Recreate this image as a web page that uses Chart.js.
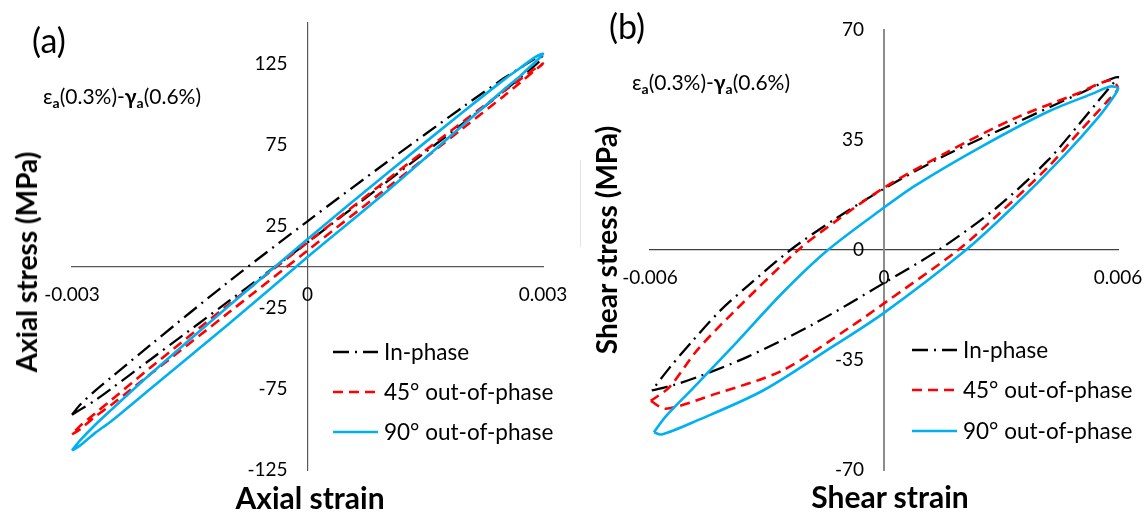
<!DOCTYPE html>
<html>
<head>
<meta charset="utf-8">
<script src="https://cdn.jsdelivr.net/npm/chart.js@4.4.1/dist/chart.umd.min.js"></script>
<style>
  body { margin: 0; background: #fff; }
  #wrap { position: relative; width: 1146px; height: 512px; font-family: Lato, sans-serif; color: #000; overflow: hidden; }
  #wrap canvas { position: absolute; top: 0; }
  .lbl { position: absolute; white-space: nowrap; line-height: 1; }
  .panel { font-size: 34px; transform: translate(-50%, -50%); }
  .note { font-size: 21px; transform: translateY(-50%); }
  .note sub { font-size: 14px; font-weight: bold; vertical-align: -4px; }
  .title { font-weight: bold; transform: translate(-50%, -50%); }
  .xtitle { font-size: 30px; }
  .ytitle { font-size: 28px; transform: translate(-50%, -50%) rotate(-90deg); }
</style>
</head>
<body>
<div id="wrap">
  <canvas id="chartA" width="573" height="512" style="left:0"></canvas>
  <canvas id="chartB" width="573" height="512" style="left:573px"></canvas>
  <div class="lbl panel" style="left:49px; top:40px">(a)</div>
  <div class="lbl panel" style="left:627px; top:26px">(b)</div>
  <div class="lbl note" style="left:43px; top:97px">ε<sub>a</sub>(0.3%)-<b>γ<sub>a</sub></b>(0.6%)</div>
  <div class="lbl note" style="left:632px; top:83px">ε<sub>a</sub>(0.3%)-<b>γ<sub>a</sub></b>(0.6%)</div>
  <div class="lbl title ytitle" style="left:26px; top:262px">Axial stress (MPa)</div>
  <div class="lbl title ytitle" style="left:606px; top:240px">Shear stress (MPa)</div>
  <div class="lbl title xtitle" style="left:310px; top:497px">Axial strain</div>
  <div class="lbl title xtitle" style="left:890px; top:496px">Shear strain</div>
  <div style="position:absolute; left:580px; top:160px; width:1px; height:87px; background:#e4e4e4"></div>
</div>
<script>
// Series labels
const seriesNames = ['In-phase', '45° out-of-phase', '90° out-of-phase'];

// (a) axial strain / axial stress (MPa): lower branch left->right, then upper branch back
const aStrain = [-0.003, -0.0029, -0.0027, -0.0025, -0.002, -0.001, 0, 0.001, 0.002, 0.0025, 0.0027, 0.0029, 0.003,
  0.0029, 0.0027, 0.0025, 0.002, 0.001, 0, -0.001, -0.002, -0.0025, -0.0027, -0.0029, -0.003];
const aInPhaseY = [-91, -88, -82, -75, -57, -21, 15, 52, 89, 108, 116, 124, 129, 128, 122, 116, 99, 64, 28, -9, -48, -68, -76, -85, -91];
const aOut45Y = [-103, -100, -92, -85, -66, -28, 10, 48, 86, 105, 113, 121, 125, 122, 115, 108, 90, 53, 15, -23, -62, -82, -90, -98, -103];
const aOut90Y = [-113, -110, -102, -95, -75, -35, 6, 46, 88, 109, 117, 126, 131, 129, 122, 115, 96, 57, 17, -24, -66, -88, -97, -107, -113];

// (b) shear strain / shear stress (MPa)
const bInPhaseX = [-0.00595, -0.0054, -0.0048, -0.0035, -0.0018, 0, 0.0014, 0.0029, 0.0042, 0.005, 0.0055, 0.006,
  0.005, 0.0033, 0.0016, 0, -0.0013, -0.0024, -0.0035, -0.0042, -0.0049, -0.0055, -0.00595];
const bInPhaseY = [-44.7, -43, -40.5, -34, -23.5, -10.5, 0, 13.6, 28.5, 40, 47.5, 55,
  49.7, 40, 30.3, 19.5, 9.5, 0, -11.5, -19.3, -28.8, -37.5, -44.7];
const bOut45X = [-0.00598, -0.0056, -0.0043, -0.0026, -0.0009, 0, 0.0019, 0.0029, 0.0042, 0.005, 0.0057, 0.006,
  0.0058, 0.005, 0.0033, 0.0016, 0, -0.0012, -0.0022, -0.0039, -0.0048, -0.0055, -0.00598];
const bOut45Y = [-48, -50.5, -45.7, -38.3, -24.8, -17, 0, 11, 26.3, 37.5, 47, 51.5,
  54, 50, 41.6, 31, 19.8, 9.5, 0, -20.3, -32, -43.6, -48];
const bOut90X = [-0.0059, -0.0057, -0.0048, -0.0031, -0.00135, 0, 0.0021, 0.0033, 0.0046, 0.0055, 0.0059, 0.006,
  0.0058, 0.0054, 0.0042, 0.0025, 0.0008, 0, -0.00144, -0.0026, -0.0039, -0.0049, -0.0056, -0.0059];
const bOut90Y = [-58, -58.7, -54.3, -44.7, -31, -20, 0, 13.6, 29.8, 42.3, 49, 51.5,
  52, 50, 44, 32.9, 20.5, 13.5, 0, -13.6, -31, -44, -53, -58];

// Axis ranges and tick labels
const xTicksA = [-0.003, 0, 0.003];
const yTicksA = [-125, -75, -25, 25, 75, 125];
const xTicksB = [-0.006, 0, 0.006];
const yTicksB = [-70, -35, 0, 35, 70];

const styles = [
  { color: '#000000', dash: [16, 6, 2, 6], width: 2.3, order: 2 },
  { color: '#ff0000', dash: [10, 6], width: 2.6, order: 1 },
  { color: '#00b0f0', dash: [], width: 2.6, order: 0 }
];

const toPoints = (xs, ys) => xs.map((x, i) => ({ x, y: ys[i] }));

function makeDatasets(loops) {
  return loops.map(([xs, ys], i) => ({
    label: seriesNames[i],
    data: toPoints(xs, ys),
    showLine: true,
    fill: false,
    tension: 0.3,
    pointRadius: 0,
    borderColor: styles[i].color,
    borderDash: styles[i].dash,
    borderWidth: styles[i].width,
    order: styles[i].order,
    clip: false
  }));
}

// Draw tick labels beside the crossing axes
const tickText = {
  id: 'tickText',
  afterDraw(chart) {
    const { ctx, scales: { x, y } } = chart;
    const x0 = x.getPixelForValue(0);
    const y0 = y.getPixelForValue(0);
    ctx.save();
    ctx.font = '19px Lato';
    ctx.fillStyle = '#000';
    ctx.textBaseline = 'middle';
    ctx.textAlign = 'center';
    x.ticks.forEach(t => ctx.fillText(String(t.value), x.getPixelForValue(t.value), y0 + 28));
    ctx.textAlign = 'right';
    y.ticks.forEach(t => ctx.fillText(String(t.value), x0 - 20, y.getPixelForValue(t.value)));
    ctx.restore();
  }
};

// Legend drawn inside the plot area
const insideLegend = {
  id: 'insideLegend',
  afterDraw(chart, args, opts) {
    const { ctx } = chart;
    ctx.save();
    ctx.font = '22.5px Lato';
    ctx.fillStyle = '#000';
    ctx.textBaseline = 'middle';
    chart.data.datasets.forEach((ds, i) => {
      const yy = opts.rows[i];
      ctx.strokeStyle = ds.borderColor;
      ctx.lineWidth = ds.borderWidth;
      ctx.setLineDash(ds.borderDash);
      ctx.beginPath();
      ctx.moveTo(opts.x1, yy);
      ctx.lineTo(opts.x2, yy);
      ctx.stroke();
      ctx.setLineDash([]);
      ctx.fillText(ds.label, opts.tx, yy + 1);
    });
    ctx.restore();
  }
};

function makeChart(id, loops, xr, yr, xTicks, yTicks, padding, legendPos, axes) {
  return new Chart(document.getElementById(id), {
    type: 'scatter',
    data: { datasets: makeDatasets(loops) },
    options: {
      responsive: false,
      animation: false,
      layout: { padding },
      scales: {
        x: {
          type: 'linear', min: xr[0], max: xr[1],
          position: { y: 0 },
          grid: { display: false },
          border: axes.x,
          ticks: { display: false },
          afterBuildTicks: s => { s.ticks = xTicks.map(v => ({ value: v })); }
        },
        y: {
          type: 'linear', min: yr[0], max: yr[1],
          position: { x: 0 },
          grid: { display: false },
          border: axes.y,
          ticks: { display: false },
          afterBuildTicks: s => { s.ticks = yTicks.map(v => ({ value: v })); }
        }
      },
      plugins: {
        legend: { display: false },
        tooltip: { enabled: false },
        insideLegend: legendPos
      }
    },
    plugins: [tickText, insideLegend]
  });
}

makeChart('chartA',
  [[aStrain, aInPhaseY], [aStrain, aOut45Y], [aStrain, aOut90Y]],
  [-0.003, 0.003], [-125, 150], xTicksA, yTicksA,
  { left: 72, right: 30, top: 23, bottom: 42 },
  { x1: 333, x2: 378, tx: 384, rows: [352, 392, 432] },
  { x: { color: '#595959', width: 1.2 }, y: { color: '#595959', width: 1.2 } });

makeChart('chartB',
  [[bInPhaseX, bInPhaseY], [bOut45X, bOut45Y], [bOut90X, bOut90Y]],
  [-0.006, 0.006], [-70, 70], xTicksB, yTicksB,
  { left: 77, right: 28, top: 30, bottom: 42 },
  { x1: 339, x2: 384, tx: 390, rows: [350, 390, 431] },
  { x: { color: '#404040', width: 1.2 }, y: { color: '#8c8c8c', width: 2 } });
</script>
</body>
</html>
